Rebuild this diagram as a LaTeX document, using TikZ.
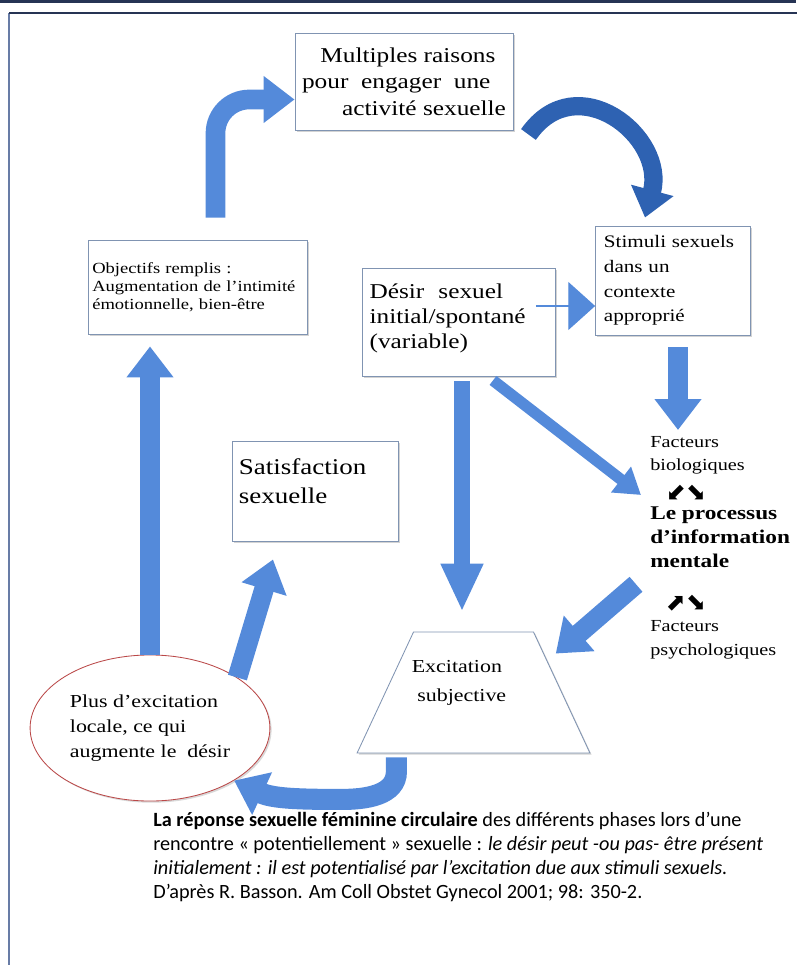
\documentclass[tikz,border=0pt]{standalone}
\usepackage{fontspec}
\setmainfont[FakeStretch=1.2]{Liberation Serif}
\newfontfamily\capfont{Carlito}
\newfontfamily\symfont{DejaVu Sans}
\usetikzlibrary{shapes.geometric, arrows.meta, positioning, calc, shadows}
\definecolor{arrowblue}{RGB}{84,138,218}
\definecolor{darkblue}{RGB}{46,98,178}
\definecolor{boxline}{RGB}{128,148,178}
\definecolor{framenavy}{RGB}{38,52,84}
\definecolor{frameside}{RGB}{104,124,166}
\definecolor{ellipsered}{RGB}{186,72,72}

\begin{document}
\begin{tikzpicture}[
    x=0.025cm, y=0.025cm,
    box/.style={rectangle, draw=boxline, fill=white, line width=0.6pt, drop shadow={shadow xshift=1.2pt, shadow yshift=-1.2pt, opacity=0.35}, align=left, inner sep=5pt},
    rtext/.style={align=left, inner sep=0pt, anchor=north west},
    dirsym/.style={font=\symfont\fontsize{17}{17}\selectfont, inner sep=0pt},
    bigarrow/.style={draw=arrowblue, line width=14pt, -{Triangle[length=22pt,width=32pt]}},
    thinarrow/.style={draw=arrowblue, line width=8pt, -{Triangle[length=18pt,width=22pt]}},
    curvarrow/.style={draw=darkblue, line width=13pt, -{Triangle[length=20pt,width=30pt]}},
    lineconn/.style={draw=arrowblue, line width=0.8pt, -{Triangle[length=19pt,width=34pt]}}
]
    \useasboundingbox (0,0) rectangle (796,-965);
    % frame
    \draw[framenavy, line width=2.5pt] (0,-1.5) -- (796,-1.5);
    \draw[frameside, line width=1.2pt] (9,-975) -- (9,-13);
    \draw[framenavy, line width=1.2pt] (9,-13) -- (810,-13);

    % boxes
    \node[box, minimum width=5.45cm, minimum height=2.425cm, font=\fontsize{15}{18.8}\selectfont] (raisons) at (404,-81.5) {\hspace{13pt}Multiples raisons\\pour\ \ engager\ \ une\\\hspace{28.5pt}activité sexuelle};
    \node[box, inner xsep=3pt, text width=5.26cm, minimum height=2.35cm, font=\fontsize{11}{12.8}\selectfont] (objectif) at (197.5,-287) {Objectifs remplis :\\Augmentation de l’intimité\\émotionnelle, bien-être};
    \node[box, text width=4.47cm, minimum height=2.7cm, font=\fontsize{15}{17.7}\selectfont] (desir) at (459,-322) {Désir\ \ sexuel\\initial/spontané\\(variable)\rule[-8pt]{0pt}{8pt}};
    \node[box, inner xsep=6pt, text width=3.45cm, minimum height=2.725cm, font=\fontsize{12.5}{17.5}\selectfont] (stimuli) at (673,-280.5) {Stimuli sexuels\\dans un\\contexte\\approprié};
    \node[box, text width=3.8cm, minimum height=2.5cm, font=\fontsize{16}{20.5}\selectfont] (satisf) at (315,-491) {Satisfaction\\sexuelle\rule[-14pt]{0pt}{14pt}};
    \node[ellipse, draw=ellipsered, fill=white, line width=0.6pt, drop shadow={shadow xshift=1.2pt, shadow yshift=-1.2pt, opacity=0.3}, minimum width=5.7cm, minimum height=3.65cm, align=left, font=\fontsize{13}{18}\selectfont] (locale) at (150,-728) {Plus d’excitation\\locale, ce qui\\augmente le\ \ désir};
    \node[trapezium, trapezium angle=64.8, trapezium stretches=true, draw=boxline, fill=white, line width=0.6pt, drop shadow={shadow xshift=1.2pt, shadow yshift=-1.2pt, opacity=0.35}, minimum width=5.825cm, minimum height=3.025cm] (excit) at (473.5,-692.5) {};
    \node[align=left, font=\fontsize{13}{20.5}\selectfont] (exctext) at (459,-683) {Excitation\\\hspace{0.3em}subjective};

    % right column
    \node[rtext, font=\fontsize{12}{16.5}\selectfont] (biolog) at (650,-436) {Facteurs\\biologiques};
    \node[dirsym] (dirbas) at (686,-493) {⬋⬊};
    \node[rtext, font=\bfseries\fontsize{13.8}{17}\selectfont] (mental) at (650,-507) {Le processus\\d’information\\mentale};
    \node[dirsym] (dirhaut) at (686,-603) {⬈⬊};
    \node[rtext, font=\fontsize{12}{17.5}\selectfont] (psych) at (650,-620) {Facteurs\\psychologiques};

    % caption
    \node[anchor=north west, align=left, inner sep=0pt, font=\capfont\fontsize{14.4}{17}\selectfont] (legende) at (153,-812) {\textbf{La réponse sexuelle féminine circulaire} des différents phases lors d’une\\rencontre « potentiellement » sexuelle : \textit{le désir peut -ou pas- être présent}\\\textit{initialement : il est potentialisé par l’excitation due aux stimuli sexuels.}\\D’après R. Basson. Am Coll Obstet Gynecol 2001; 98: 350-2.};

    % connectors
    \draw[bigarrow, rounded corners=24pt] ($(objectif.north)+(18,22)$) |- ($(raisons.west)+(0,-18)$);
    \draw[curvarrow] ($(raisons.east)+(15,-53)$) to[out=55, in=75, looseness=1.5] ($(stimuli.north)+(-28,8)$);
    \coordinate (desirout) at ($(desir.east)+(-20,16)$);
    \draw[lineconn] (desirout) -- (desirout -| stimuli.west);
    \draw[bigarrow] ($(stimuli.south)+(5,-12)$) coordinate (s1) -- ($(s1 |- biolog.north)+(0,6)$);
    \draw[thinarrow] ($(desir.south)+(34,-4)$) -- ($(mental.north west)+(-9,12)$);
    \draw[bigarrow, line width=12pt, -{Triangle[length=34pt,width=28pt]}] ($(desir.south)+(3,-5)$) coordinate (d1) -- ($(d1 |- excit.north)+(0,20)$);
    \draw[bigarrow] ($(mental.south west)+(-14,-16)$) -- ($(excit.top right corner)+(22,-22)$);
    \draw[bigarrow, line width=15pt] ($(excit.bottom left corner)+(40,-4)$) -- ++(0,-14) to[out=-90, in=0] ++(-55,-28) to[out=180, in=-25] (locale.-32);
    \draw[bigarrow] (locale.30) -- ($(satisf.south)+(-42,-18)$);
    \draw[bigarrow] (locale.north) -- ($(locale.north |- objectif.south)+(0,-12)$);
\end{tikzpicture}
\end{document}
